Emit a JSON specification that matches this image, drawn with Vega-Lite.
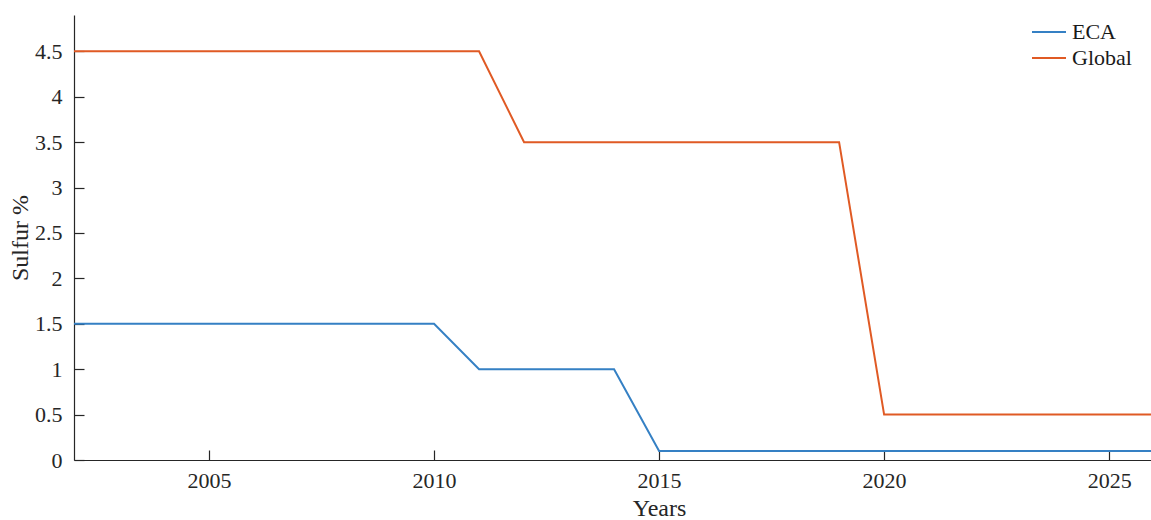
{
  "$schema": "https://vega.github.io/schema/vega-lite/v6.json",
  "width": 1077,
  "height": 445,
  "autosize": {"type": "none"},
  "padding": {"left": 74, "top": 15, "right": 0, "bottom": 60},
  "background": "white",
  "config": {
    "view": {"stroke": null},
    "font": "Liberation Serif",
    "axis": {
      "grid": false,
      "domainColor": "#262626",
      "domainWidth": 1.2,
      "tickColor": "#262626",
      "tickWidth": 1.2,
      "tickSize": -10,
      "labelColor": "#262626",
      "labelFont": "Liberation Serif",
      "labelFontSize": 22,
      "titleColor": "#262626",
      "titleFont": "Liberation Serif",
      "titleFontSize": 24,
      "titleFontWeight": "normal"
    }
  },
  "data": {
    "values": [
      {"Year": 2002, "Sulfur": 1.5, "Area": "ECA"},
      {"Year": 2010, "Sulfur": 1.5, "Area": "ECA"},
      {"Year": 2011, "Sulfur": 1.0, "Area": "ECA"},
      {"Year": 2014, "Sulfur": 1.0, "Area": "ECA"},
      {"Year": 2015, "Sulfur": 0.1, "Area": "ECA"},
      {"Year": 2026, "Sulfur": 0.1, "Area": "ECA"},
      {"Year": 2002, "Sulfur": 4.5, "Area": "Global"},
      {"Year": 2011, "Sulfur": 4.5, "Area": "Global"},
      {"Year": 2012, "Sulfur": 3.5, "Area": "Global"},
      {"Year": 2019, "Sulfur": 3.5, "Area": "Global"},
      {"Year": 2020, "Sulfur": 0.5, "Area": "Global"},
      {"Year": 2026, "Sulfur": 0.5, "Area": "Global"}
    ]
  },
  "mark": {"type": "line", "strokeWidth": 2, "clip": true},
  "encoding": {
    "x": {
      "field": "Year",
      "type": "quantitative",
      "title": "Years",
      "scale": {"domain": [2002, 2025.93], "nice": false, "zero": false},
      "axis": {
        "values": [2005, 2010, 2015, 2020, 2025],
        "format": "d",
        "labelPadding": 20,
        "titlePadding": 5,
        "titleX": 585
      }
    },
    "y": {
      "field": "Sulfur",
      "type": "quantitative",
      "title": "Sulfur %",
      "scale": {"domain": [0, 4.9], "nice": false},
      "axis": {
        "values": [0, 0.5, 1, 1.5, 2, 2.5, 3, 3.5, 4, 4.5],
        "labelExpr": "datum.value + ''",
        "labelPadding": 22,
        "titlePadding": 2
      }
    },
    "color": {
      "field": "Area",
      "type": "nominal",
      "scale": {"domain": ["ECA", "Global"], "range": ["#3580c4", "#e05a24"]},
      "legend": {
        "title": null,
        "orient": "none",
        "legendX": 957,
        "legendY": 4,
        "symbolType": "stroke",
        "symbolSize": 1156,
        "symbolStrokeWidth": 2,
        "labelFont": "Liberation Serif",
        "labelFontSize": 22,
        "labelColor": "#1a1a1a",
        "labelOffset": 5,
        "clipHeight": 26,
        "rowPadding": 0
      }
    }
  }
}
